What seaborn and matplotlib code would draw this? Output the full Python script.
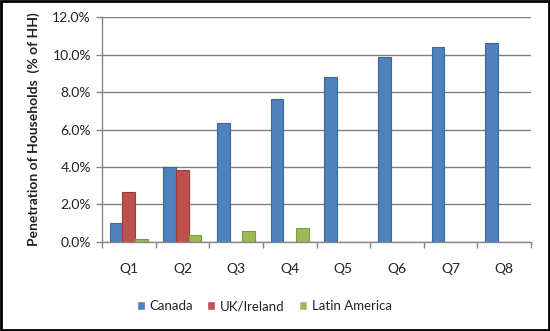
import numpy as np
import pandas as pd
import matplotlib
matplotlib.use("Agg")
import matplotlib.pyplot as plt
import seaborn as sns
from matplotlib.patches import Rectangle
from matplotlib.ticker import FuncFormatter, FixedLocator

quarters = ["Q1", "Q2", "Q3", "Q4", "Q5", "Q6", "Q7", "Q8"]
canada = [1.0, 4.0, 6.35, 7.65, 8.8, 9.87, 10.42, 10.62]
uk_ireland = [2.67, 3.82, np.nan, np.nan, np.nan, np.nan, np.nan, np.nan]
latin_america = [0.18, 0.36, 0.6, 0.73, np.nan, np.nan, np.nan, np.nan]
series_names = ["Canada", "UK/Ireland", "Latin America"]
y_ticks = [0, 2, 4, 6, 8, 10, 12]

rows = []
for name, vals in zip(series_names, [canada, uk_ireland, latin_america]):
    for q, v in zip(quarters, vals):
        rows.append({"Quarter": q, "Region": name, "Value": v})
df = pd.DataFrame(rows)

sns.set_theme(style="white")
plt.rcParams["font.family"] = ["Lato", "DejaVu Sans"]

fig = plt.figure(figsize=(5.5, 3.31), dpi=100)
ax = fig.add_axes([0.1855, 0.2689, 0.78, 0.6797])

palette = {"Canada": "#4F81BD", "UK/Ireland": "#C0504D", "Latin America": "#9BBB59"}
edges = {"Canada": "#3A6699", "UK/Ireland": "#9E3B38", "Latin America": "#7E9A44"}

sns.barplot(data=df, x="Quarter", y="Value", hue="Region", order=quarters,
            hue_order=series_names, palette=palette, width=0.71, gap=0,
            ax=ax, legend=True, saturation=1)

for cont, name in zip(ax.containers, series_names):
    for p in cont.patches:
        p.set_edgecolor(edges[name])
        p.set_linewidth(0.8)

ax.set_ylim(0, 12)
ax.set_xlim(-0.5, 7.5)
ax.set_yticks(y_ticks)
ax.yaxis.set_major_formatter(FuncFormatter(lambda v, p: f"{v:.1f}%"))
ax.yaxis.grid(True, color="#808080", linewidth=1.0)
ax.set_axisbelow(True)

for s in ["top", "right"]:
    ax.spines[s].set_visible(False)
ax.spines["left"].set_color("#868686")
ax.spines["bottom"].set_color("#868686")
ax.spines["left"].set_linewidth(1.0)
ax.spines["bottom"].set_linewidth(1.0)

ax.tick_params(axis="y", which="major", left=True, length=4, width=1,
               color="#868686", labelsize=10, labelcolor="#222222", pad=4)
ax.tick_params(axis="x", which="major", bottom=False, labelsize=10,
               labelcolor="#222222", pad=9)
ax.xaxis.set_minor_locator(FixedLocator(np.arange(-0.5, 8.0, 1.0)))
ax.tick_params(axis="x", which="minor", bottom=True, length=4, width=1,
               color="#868686")

ax.set_xlabel("")
ax.set_ylabel("Penetration of Households  (% of HH)", fontsize=10,
              fontweight="bold", color="#222222", labelpad=9)

leg = ax.legend(loc="center", bbox_to_anchor=(0.378, -0.285), ncol=3,
                frameon=False, fontsize=9.5, handlelength=0.6,
                handleheight=0.6, columnspacing=1.1, handletextpad=0.35,
                borderpad=0)
for t in leg.get_texts():
    t.set_color("#222222")

fig.patches.append(Rectangle((0.002, 0.003), 0.996, 0.994, transform=fig.transFigure,
                             fill=False, edgecolor="black", linewidth=2.0))

fig.savefig("out.png", dpi=100, facecolor="white")
